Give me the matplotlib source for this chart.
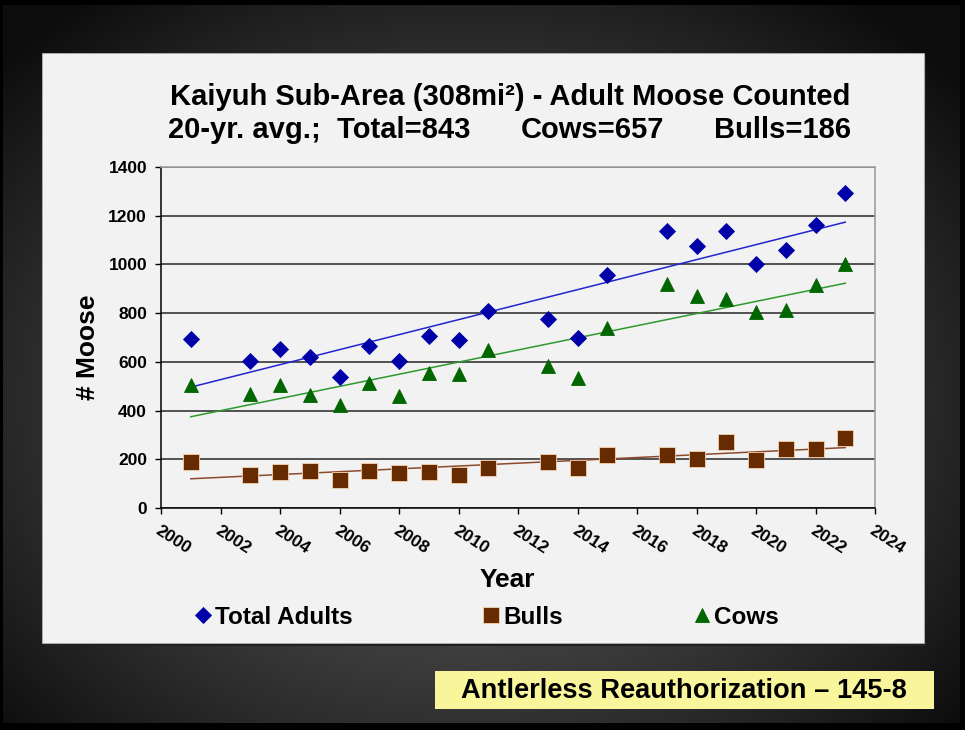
import numpy as np
import matplotlib
matplotlib.use("Agg")
import matplotlib.pyplot as plt
from matplotlib.patches import Rectangle

plt.rcParams['font.family'] = ['Liberation Sans', 'DejaVu Sans']
plt.rcParams['font.weight'] = 'bold'

# ---------------- data ----------------
years = [2001, 2003, 2004, 2005, 2006, 2007, 2008, 2009, 2010, 2011,
         2013, 2014, 2015, 2017, 2018, 2019, 2020, 2021, 2022, 2023]
total_adults = [693, 605, 653, 619, 537, 667, 605, 708, 688, 810,
                778, 697, 958, 1138, 1077, 1136, 1001, 1059, 1160, 1293]
cows = [504, 469, 503, 464, 423, 514, 458, 553, 552, 647,
        585, 532, 738, 921, 871, 859, 804, 814, 914, 1000]
bulls = [189, 134, 149, 151, 114, 151, 144, 148, 134, 163,
         190, 166, 218, 218, 201, 273, 199, 242, 244, 286]
x_ticks = list(range(2000, 2025, 2))
y_ticks = list(range(0, 1401, 200))
title1 = "Kaiyuh Sub-Area (308mi\u00b2) - Adult Moose Counted"
title2a = "20-yr. avg.;  Total=843"
title2b = "Cows=657"
title2c = "Bulls=186"
banner = "Antlerless Reauthorization \u2013 145-8"

W, H = 965, 730
fig = plt.figure(figsize=(W / 100, H / 100), dpi=100)

# ---------------- background ----------------
bg = fig.add_axes([0, 0, 1, 1])
bg.set_xlim(0, W)
bg.set_ylim(H, 0)
bg.axis('off')
yy, xx = np.mgrid[0:H, 0:W]
r = np.sqrt(((xx - 470) / 600.0) ** 2 + ((yy - 400) / 480.0) ** 2)
val = np.clip(0.37 - 0.30 * r ** 1.3, 0.05, 1)
img = np.dstack([val, val, val])
bg.imshow(img, extent=(0, W, H, 0), zorder=0, aspect='auto')
# black outer frame
for (x0, y0, w, h) in [(0, 0, W, 5), (0, 0, 3, H), (W - 5, 0, 5, H), (0, H - 7, W, 7)]:
    bg.add_patch(Rectangle((x0, y0), w, h, color='black', zorder=1, lw=0))
# panel shadow + panel
bg.add_patch(Rectangle((44, 55), 882, 591, color='#202020', zorder=2, lw=0))
bg.add_patch(Rectangle((42, 53), 882, 590, facecolor='#f2f2f2', edgecolor='#b0b0b0',
                       lw=0.6, zorder=3))
# banner
bg.add_patch(Rectangle((435, 671), 499, 38, facecolor='#f9f59b', edgecolor='none', zorder=3))
bg.text(684, 691, banner, ha='center', va='center', fontsize=19.6, fontweight='bold',
        color='black', zorder=4)

# titles
bg.text(510, 97, title1, ha='center', va='center', fontsize=21, fontweight='bold', zorder=4)
bg.text(168, 130, title2a, ha='left', va='center', fontsize=21, fontweight='bold', zorder=4)
bg.text(521, 130, title2b, ha='left', va='center', fontsize=21, fontweight='bold', zorder=4)
bg.text(851, 130, title2c, ha='right', va='center', fontsize=21, fontweight='bold', zorder=4)

# axis labels
bg.text(507, 580, "Year", ha='center', va='center', fontsize=19, fontweight='bold', zorder=4)
bg.text(88, 347, "# Moose", ha='center', va='center', rotation=90, fontsize=19,
        fontweight='bold', zorder=4)

# ---------------- plot ----------------
ax = fig.add_axes([161 / W, 1 - 508 / H, (875 - 161) / W, (508 - 167) / H])
ax.set_facecolor('#f2f2f2')
ax.set_xlim(2000, 2024)
ax.set_ylim(0, 1400)
ax.set_xticks(x_ticks)
ax.set_yticks(y_ticks)
ax.yaxis.grid(True, color='#262626', lw=1.1)
ax.set_axisbelow(True)
for s in ['top', 'right']:
    ax.spines[s].set_color('#a0a0a0')
    ax.spines[s].set_linewidth(1.2)
for s in ['left', 'bottom']:
    ax.spines[s].set_color('black')
    ax.spines[s].set_linewidth(1.1)
ax.tick_params(axis='both', direction='out', length=4.5, width=1, color='black',
               labelsize=12.5, pad=5.5)
ax.set_xticklabels([str(t) for t in x_ticks], rotation=-33, ha='left', va='top',
                   rotation_mode='anchor', fontweight='bold')
ax.set_yticklabels([str(t) for t in y_ticks], fontweight='bold')
ax.tick_params(axis='x', pad=6)

yrs = np.array(years, dtype=float)
xs = np.array([years[0], years[-1]], dtype=float)

series = [
    (total_adults, 'D', '#0000a8', '#0000a8', 8.4, '#2424d0', 'Total Adults'),
    (bulls, 's', '#662b00', '#f5d2b0', 11.0, '#8b4a2a', 'Bulls'),
    (cows, '^', '#006600', '#006600', 10.5, '#2e9a2e', 'Cows'),
]
handles = []
for vals, mk, fc, ec, ms, lc, lab in series:
    coef = np.polyfit(yrs, np.array(vals, dtype=float), 1)
    ax.plot(xs, np.polyval(coef, xs), color=lc, lw=1.1, zorder=3)
for vals, mk, fc, ec, ms, lc, lab in series:
    h, = ax.plot(years, vals, linestyle='none', marker=mk, markersize=ms,
                 markerfacecolor=fc, markeredgecolor=ec, markeredgewidth=0.6,
                 zorder=4, label=lab)
    handles.append(h)

fig.legend(handles=handles, loc='center', bbox_to_anchor=(487 / W, 1 - 617 / H),
           ncol=3, frameon=False, handlelength=0.6, handletextpad=0.2,
           columnspacing=5.4, prop={'weight': 'bold', 'size': 17.5})

fig.savefig('out.png', dpi=100)
